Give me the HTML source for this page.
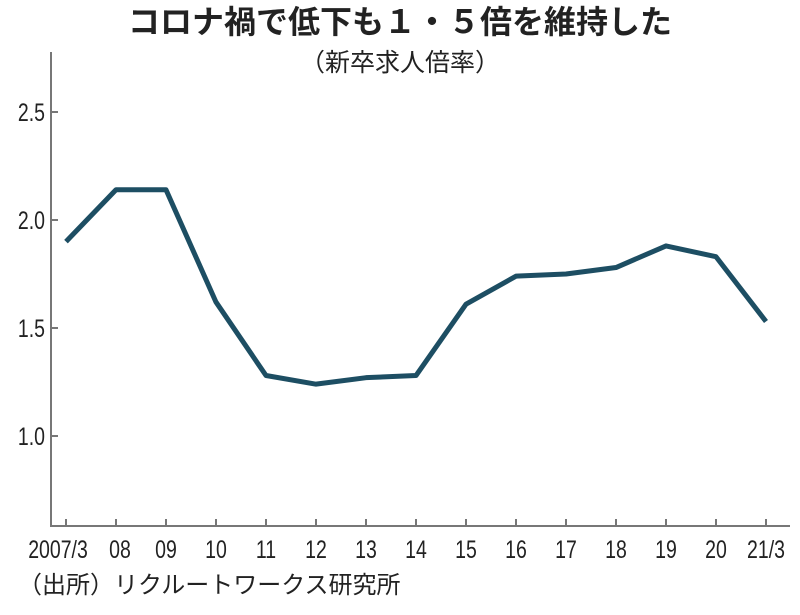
<!DOCTYPE html>
<html><head><meta charset="utf-8"><style>
body{margin:0;background:#fff;width:800px;height:610px;overflow:hidden}
svg text{font-family:"Liberation Sans","Noto Sans CJK JP",sans-serif;fill:#222}
</style></head><body>
<svg width="800" height="610">
<text x="400" y="33" text-anchor="middle" font-size="32" font-weight="bold">コロナ禍で低下も１・５倍を維持した</text>
<text x="400" y="71" text-anchor="middle" font-size="25">（新卒求人倍率）</text>
<g id="axes"></g>
<path id="line" fill="none" stroke="#1d4e63" stroke-width="5" stroke-linejoin="round"></path>
<text x="18" y="593" font-size="24">（出所）リクルートワークス研究所</text>
</svg>
<script>
const categories=["2007/3","08","09","10","11","12","13","14","15","16","17","18","19","20","21/3"];
const values=[1.90,2.14,2.14,1.62,1.28,1.24,1.27,1.28,1.61,1.74,1.75,1.78,1.88,1.83,1.53];
const yTicks=[1.0,1.5,2.0,2.5];
const yTickLabels=["1.0","1.5","2.0","2.5"];
const NS="http://www.w3.org/2000/svg";
function xS(i){return 66+i*50;}
function yS(v){return 436-(v-1)*216;}
const g=document.getElementById('axes');
function mk(t,a){const e=document.createElementNS(NS,t);for(const k in a)e.setAttribute(k,a[k]);g.appendChild(e);return e;}
let ax=mk('path',{d:'M51,52V526H790',fill:'none',stroke:'#777','stroke-width':2});


yTicks.forEach((v,i)=>{
 let t=mk('line',{x1:51,x2:58,y1:yS(v),y2:yS(v),stroke:'#777','stroke-width':2});
 
 
 let l=mk('text',{x:0,y:0,'text-anchor':'end','font-size':25,transform:'translate(45,'+(yS(v)+9)+') scale(0.78,1)'});
 l.textContent=yTickLabels[i];
 
 
});
categories.forEach((c,i)=>{
 let t=mk('line',{x1:xS(i),x2:xS(i),y1:526,y2:519,stroke:'#777','stroke-width':2});
 
 
 let cx=xS(i)+(i==0?-8:i==1?4:0);
 let l=mk('text',{x:0,y:0,'text-anchor':'middle','font-size':25,transform:'translate('+cx+',558) scale(0.78,1)'});
 l.textContent=c;
 
 
});
document.getElementById('line').setAttribute('d',values.map((v,i)=>(i?'L':'M')+xS(i)+','+yS(v)).join(''));
</script>
</body></html>
